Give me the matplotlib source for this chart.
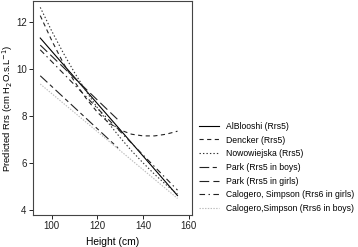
import matplotlib
matplotlib.use("Agg")
import matplotlib.pyplot as plt

plt.rcParams['font.family'] = ['Liberation Sans', 'DejaVu Sans']
plt.rcParams['lines.scale_dashes'] = False

# heights (cm) for the curved equations
h_curve = [95, 100, 105, 110, 115, 120, 125, 130, 135, 140, 145, 150, 155]
dencker = [12.25, 11.2, 10.25, 9.45, 8.75, 8.15, 7.7, 7.4, 7.22, 7.15, 7.15, 7.22, 7.35]
nowowiejska = [12.6, 11.6, 10.68, 9.83, 9.05, 8.34, 7.67, 7.07, 6.51, 6.0, 5.52, 5.08, 4.68]

# straight-line equations: end points
h_full = [95, 155]
alblooshi = [11.3, 4.62]
calogero_girls = [10.8, 4.85]
calogero_boys = [9.35, 4.5]
h_park = [95, 129]
park_boys = [9.7, 6.64]
park_girls = [11.0, 7.83]

labels = ['AlBlooshi (Rrs5)', 'Dencker (Rrs5)', 'Nowowiejska (Rrs5)',
          'Park (Rrs5 in boys)', 'Park (Rrs5 in girls)',
          'Calogero, Simpson (Rrs6 in girls)', 'Calogero,Simpson (Rrs6 in boys)']

fig = plt.figure(figsize=(3.58, 2.47), dpi=100)
ax = fig.add_axes([0.092, 0.13, 0.444, 0.864])

lw = 0.8
ax.plot(h_full, alblooshi, color='black', lw=lw, ls='-', label=labels[0])
ax.plot(h_curve, dencker, color='#222222', lw=lw, ls=(0, (3, 2.5)), label=labels[1])
ax.plot(h_curve, nowowiejska, color='#333333', lw=lw, ls=(0, (1, 1.5)), label=labels[2])
ax.plot(h_park, park_boys, color='#222222', lw=lw, ls=(0, (7, 2.5, 3, 2.5)), label=labels[3])
ax.plot(h_park, park_girls, color='#222222', lw=lw, ls=(0, (7, 3)), label=labels[4])
ax.plot(h_full, calogero_girls, color='#222222', lw=lw, ls=(0, (4, 2.5, 1, 2.5)), label=labels[5])
ax.plot(h_full, calogero_boys, color='#bbbbbb', lw=lw, ls=(0, (1, 1)), label=labels[6])

ax.set_xlim(91.8, 161.3)
ax.set_ylim(3.8, 12.85)
ax.set_xticks([100, 120, 140, 160])
ax.set_yticks([4, 6, 8, 10, 12])
ax.tick_params(direction='out', length=3, width=0.7, labelsize=7, colors='#222222', pad=1.5)
for s in ax.spines.values():
    s.set_linewidth(0.8)
    s.set_color('#444444')

ax.set_xlabel('Height (cm)', fontsize=7.4, labelpad=4)
ax.set_ylabel('Predicted Rrs (cm H$_2$O.s.L$^{-1}$)', fontsize=6.8)
ax.yaxis.set_label_coords(-0.11, 0.5)

handles, labs = ax.get_legend_handles_labels()
fig.legend(handles, labs, loc='upper left', bbox_to_anchor=(0.556, 0.507),
           frameon=False, fontsize=6.2, handlelength=2.3, handletextpad=0.8,
           labelspacing=0.55, borderpad=0, borderaxespad=0)

fig.savefig('out.png', dpi=100)
